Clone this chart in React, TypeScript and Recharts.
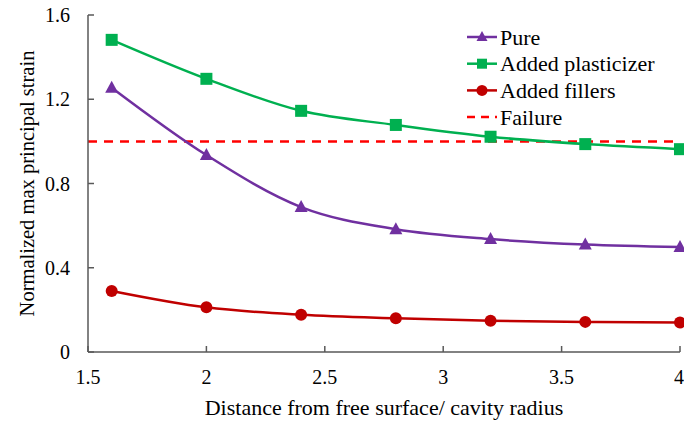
import { LineChart, Line, XAxis, YAxis, ReferenceLine } from "recharts";

const distance = [1.6, 2.0, 2.4, 2.8, 3.2, 3.6, 4.0];
const pure = [1.255, 0.935, 0.688, 0.583, 0.536, 0.51, 0.498];
const plasticizer = [1.482, 1.297, 1.145, 1.078, 1.022, 0.987, 0.963];
const fillers = [0.29, 0.212, 0.177, 0.16, 0.148, 0.143, 0.14];
const failure = 1.0;

const xTicks = [1.5, 2, 2.5, 3, 3.5, 4];
const yTicks = [0, 0.4, 0.8, 1.2, 1.6];

const PURPLE = "#7030A0";
const GREEN = "#00B050";
const RED = "#C00000";
const FAIL_RED = "#FF0000";
const AXIS = "#595959";
const FONT = '"Liberation Serif", "Times New Roman", Times, serif';

const rows = distance.map((d, i) => ({
  d,
  pure: pure[i],
  plasticizer: plasticizer[i],
  fillers: fillers[i],
}));

const Triangle = (props: any) => {
  const { cx, cy } = props;
  if (cx == null || cy == null) return null;
  return <path d={`M${cx},${cy - 7} L${cx + 6.5},${cy + 5} L${cx - 6.5},${cy + 5} Z`} fill={PURPLE} />;
};

const Square = (props: any) => {
  const { cx, cy } = props;
  if (cx == null || cy == null) return null;
  return <rect x={cx - 6} y={cy - 6} width={12} height={12} fill={GREEN} />;
};

const Circle = (props: any) => {
  const { cx, cy } = props;
  if (cx == null || cy == null) return null;
  return <circle cx={cx} cy={cy} r={6} fill={RED} />;
};

const legendItems = [
  { name: "Pure", color: PURPLE, marker: "tri" },
  { name: "Added plasticizer", color: GREEN, marker: "sq" },
  { name: "Added fillers", color: RED, marker: "circ" },
  { name: "Failure", color: FAIL_RED, marker: "dash" },
];

function LegendBox() {
  return (
    <svg width={215} height={110} style={{ position: "absolute", left: 465, top: 27, overflow: "visible" }}>
      {legendItems.map((it, i) => {
        const y = 10 + i * 26.7;
        return (
          <g key={it.name}>
            {it.marker === "dash" ? (
              <line x1={2} x2={32} y1={y} y2={y} stroke={it.color} strokeWidth={2.5} strokeDasharray="8 6" />
            ) : (
              <line x1={2} x2={32} y1={y} y2={y} stroke={it.color} strokeWidth={2.5} />
            )}
            {it.marker === "tri" && <path d={`M17,${y - 6} L22.5,${y + 4} L11.5,${y + 4} Z`} fill={it.color} />}
            {it.marker === "sq" && <rect x={12} y={y - 5} width={10} height={10} fill={it.color} />}
            {it.marker === "circ" && <circle cx={17} cy={y} r={5.5} fill={it.color} />}
            <text x={35} y={y} dy="0.35em" fill="#000" style={{ fontSize: 22, fontFamily: FONT }}>
              {it.name}
            </text>
          </g>
        );
      })}
    </svg>
  );
}

const tickStyle = { fill: "#000", fontSize: 20, fontFamily: FONT };

export default function App() {
  return (
    <div style={{ position: "absolute", left: 0, top: 0, background: "#fff", fontFamily: FONT }}>
      <LineChart width={684} height={421} data={rows} margin={{ top: 15, right: 4, left: 0, bottom: 0 }}>
        <XAxis
          dataKey="d"
          type="number"
          domain={[1.5, 4]}
          ticks={xTicks}
          tickSize={-6}
          tickMargin={24}
          stroke={AXIS}
          strokeWidth={1.5}
          height={69}
          tick={tickStyle}
          label={{
            value: "Distance from free surface/ cavity radius",
            position: "insideBottom",
            offset: 6,
            style: { fill: "#000", fontSize: 22, fontFamily: FONT },
          }}
        />
        <XAxis
          xAxisId="top"
          orientation="top"
          type="number"
          domain={[1.5, 4]}
          tick={false}
          tickLine={false}
          height={0}
          stroke={AXIS}
          strokeWidth={1.5}
        />
        <YAxis
          type="number"
          domain={[0, 1.6]}
          ticks={yTicks}
          tickSize={-6}
          tickMargin={24}
          width={88}
          stroke={AXIS}
          strokeWidth={1.5}
          tick={tickStyle}
          label={{
            value: "Normalized max principal strain",
            angle: -90,
            position: "insideLeft",
            offset: 27,
            style: { textAnchor: "middle", fill: "#000", fontSize: 20.5, fontFamily: FONT },
          }}
        />
        <YAxis
          yAxisId="right"
          orientation="right"
          type="number"
          domain={[0, 1.6]}
          tick={false}
          tickLine={false}
          width={0}
          stroke="#333"
          strokeWidth={1.5}
        />
        <ReferenceLine y={failure} stroke={FAIL_RED} strokeWidth={2.5} strokeDasharray="9 7" />
        <Line type="monotone" dataKey="pure" stroke={PURPLE} strokeWidth={2.5} dot={<Triangle />} isAnimationActive={false} />
        <Line type="monotone" dataKey="plasticizer" stroke={GREEN} strokeWidth={2.5} dot={<Square />} isAnimationActive={false} />
        <Line type="monotone" dataKey="fillers" stroke={RED} strokeWidth={2.5} dot={<Circle />} isAnimationActive={false} />
      </LineChart>
      <LegendBox />
    </div>
  );
}
